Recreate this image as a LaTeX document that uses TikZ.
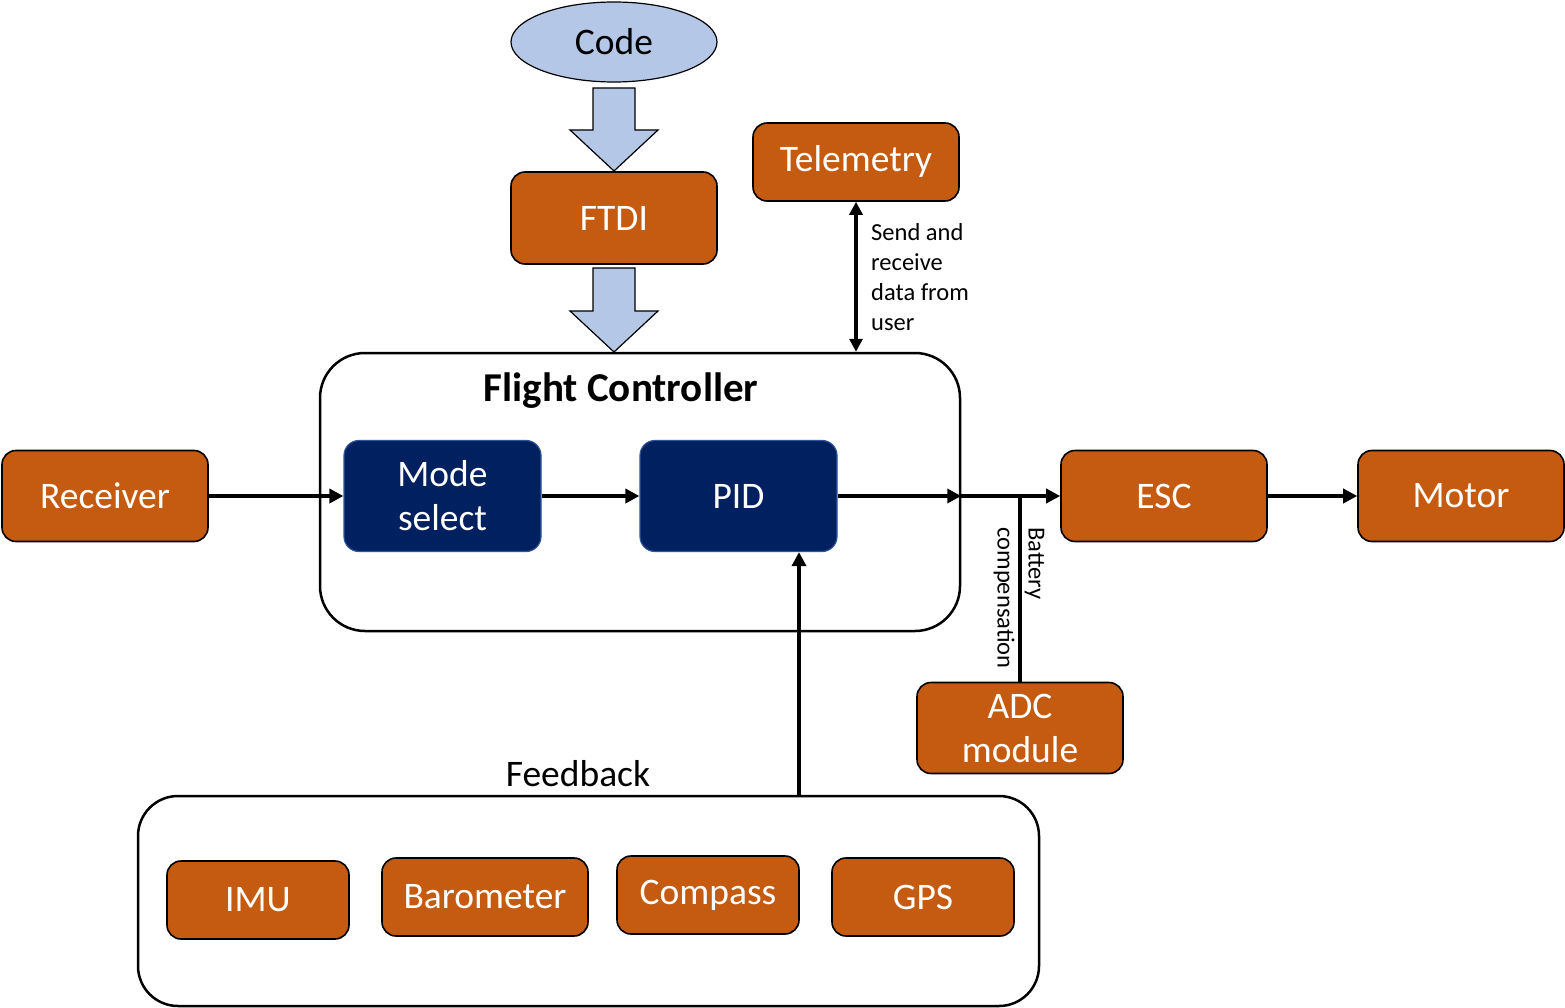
\documentclass[tikz,border=0pt]{standalone}
\usepackage{fontspec}
\setmainfont{Carlito}
\usetikzlibrary{arrows.meta,shapes.geometric,calc}
\definecolor{orng}{HTML}{C55A11}
\definecolor{lblue}{HTML}{B4C7E7}
\definecolor{navy}{HTML}{002060}
\definecolor{navyedge}{HTML}{2F5597}
\begin{document}
\begin{tikzpicture}[x=1pt,y=-1pt,
  big/.style={font=\fontsize{37.5}{44}\selectfont},
  small/.style={font=\fontsize{24.5}{30}\selectfont},
  obox/.style={draw=black,line width=1.6pt,fill=orng,rounded corners=14pt,text=white,big,align=center,inner sep=0pt,minimum width=#1},
  nbox/.style={draw=navyedge,line width=1.2pt,fill=navy,rounded corners=15pt,text=white,big,align=center,inner sep=0pt,minimum width=197pt,minimum height=111pt},
  frame/.style={draw=black,line width=2.5pt,fill=white,inner sep=0pt},
  conn/.style={line width=4pt,-{Triangle[length=14pt,width=14pt]}},
  plain/.style={line width=4pt},
  blk/.style={draw=black,line width=1.2pt,fill=lblue}
]
\useasboundingbox (0,0) rectangle (1565,1008);
% frames
\node[frame,rounded corners=45pt,minimum width=640pt,minimum height=278pt] (fc) at (640,492) {};
\node[frame,rounded corners=40pt,minimum width=901pt,minimum height=210pt] (fb) at (588.5,901) {};
\node[font=\bfseries\fontsize{41}{48}\selectfont] (fct) at (621,391) {Flight Controller};
\node[big] (fbt) at (578,774) {Feedback};
% top
\node[ellipse,draw=black,line width=1.2pt,fill=lblue,minimum width=206pt,minimum height=80pt,inner sep=0pt,big] (code) at (614,42) {Code};
\node[obox=206pt,minimum height=92pt] (ftdi) at (614,218) {FTDI};
\node[obox=206pt,minimum height=78pt] (tel) at (856,162) {\raisebox{-3pt}{Telemetry}};
% block arrows
\draw[blk] (593,88) -- (635,88) -- (635,130) -- (658,130) -- (614,171) -- (570,130) -- (593,130) -- cycle;
\draw[blk] (593,268) -- (635,268) -- (635,311) -- (658,311) -- (614,352) -- (570,311) -- (593,311) -- cycle;
% main row
\node[obox=206pt,minimum height=91pt] (rec) at (105,496) {Receiver};
\node[nbox] (mode) at (442.5,496) {Mode\\select};
\node[nbox] (pid) at (738.5,496) {PID};
\node[obox=206pt,minimum height=91pt] (esc) at (1164,496) {ESC};
\node[obox=206pt,minimum height=91pt] (mot) at (1461,496) {Motor};
\node[obox=206pt,minimum height=91pt] (adc) at (1020,728) {ADC\\module};
% sensors
\node[obox=182pt,minimum height=78pt] (imu) at (258,900) {\raisebox{-2pt}{IMU}};
\node[obox=206pt,minimum height=78pt] (baro) at (485,897) {\raisebox{-2pt}{Barometer}};
\node[obox=182pt,minimum height=78pt] (comp) at (708,895) {\raisebox{-3pt}{Compass}};
\node[obox=182pt,minimum height=78pt] (gps) at (923,897) {\raisebox{-2pt}{GPS}};
% connectors
\draw[conn] (rec.east) -- (mode.west);
\draw[conn] (mode.east) -- (pid.west);
\coordinate (j) at (pid.east -| fc.east);
\draw[conn] (pid.east) -- (j);
\draw[conn] (j) -- (esc.west);
\draw[conn] (esc.east) -- (mot.west);
\coordinate (fbx) at (799,0);
\draw[conn] (fb.north -| fbx) -- (pid.south -| fbx);
\draw[plain] (adc.north) -- (adc.north |- esc.west);
\draw[line width=3.5pt,{Triangle[length=13pt,width=13pt]}-{Triangle[length=13pt,width=13pt]}] (tel.south) -- (tel.south |- fc.north);
% labels
\node[small,align=left,anchor=west,inner sep=0pt] (srd) at (871,277) {Send and\\receive\\data from\\user};
\node[font=\fontsize{24.5}{31}\selectfont,align=left,rotate=-90,inner sep=0pt] (bat) at (1019,598) {Battery\\compensation};
\end{tikzpicture}
\end{document}
